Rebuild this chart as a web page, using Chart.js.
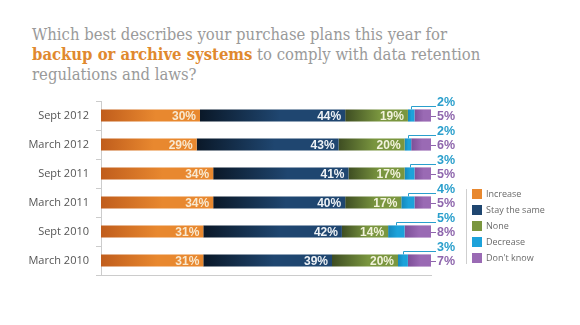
<!DOCTYPE html>
<html>
<head>
<meta charset="utf-8">
<script src="https://cdn.jsdelivr.net/npm/chart.js@4.4.1/dist/chart.umd.min.js"></script>
<style>
  html, body { margin: 0; padding: 0; background: #fff; }
  #wrap { position: relative; width: 580px; height: 325px; }
  #title {
    position: absolute; left: 32px; top: 25px; width: 546px;
    font-family: "DejaVu Serif Condensed", "DejaVu Serif", serif; font-stretch: condensed;
    font-size: 16.5px; line-height: 20px;
    color: #9a9a9a; white-space: nowrap;
  }
  #title b { color: #e0892e; }
  canvas { position: absolute; left: 0; top: 0; }
</style>
</head>
<body>
<div id="wrap">
  <div id="title">Which best describes your purchase plans this year for<br><b>backup or archive systems</b> to comply with data retention<br>regulations and laws?</div>
  <canvas id="c" width="580" height="325"></canvas>
</div>
<script>
// survey waves, top to bottom
const periods = ['Sept 2012', 'March 2012', 'Sept 2011', 'March 2011', 'Sept 2010', 'March 2010'];

const increase = [30, 29, 34, 34, 31, 31];
const staySame = [44, 43, 41, 40, 42, 39];
const none     = [19, 20, 17, 17, 14, 20];
const decrease = [2, 2, 3, 4, 5, 3];
const dontKnow = [5, 6, 5, 5, 8, 7];

const seriesNames = ['Increase', 'Stay the same', 'None', 'Decrease', "Don't know"];

// dark -> main colour for each segment gradient
const shades = [
  ['#c05d1c', '#e8882f'],
  ['#0a1828', '#1f4670'],
  ['#3e4d22', '#7a963f'],
  ['#1587bb', '#1ca2da'],
  ['#7d4f98', '#9a6ab4']
];
const insideLabel = ['#f8e8cf', '#eef2f6', '#f2f2dc'];
const valueLists = [increase, staySame, none, decrease, dontKnow];

function segmentFill(ds) {
  return function (c) {
    const chart = c.chart;
    const x = chart.scales.x;
    if (!x || c.dataIndex === undefined) return shades[ds][1];
    let start = 0;
    for (let k = 0; k < ds; k++) start += valueLists[k][c.dataIndex];
    const x0 = x.getPixelForValue(start);
    const x1 = x.getPixelForValue(start + valueLists[ds][c.dataIndex]);
    if (!isFinite(x0) || !isFinite(x1) || x1 - x0 < 1) return shades[ds][1];
    const g = chart.ctx.createLinearGradient(x0, 0, x1, 0);
    g.addColorStop(0, shades[ds][0]);
    g.addColorStop(0.55, shades[ds][1]);
    g.addColorStop(1, shades[ds][1]);
    return g;
  };
}

const labelPlugin = {
  id: 'labels',
  afterDatasetsDraw(chart) {
    const ctx = chart.ctx;
    ctx.save();
    ctx.font = 'bold 12px "Liberation Sans", Arial, sans-serif';
    ctx.textBaseline = 'middle';
    // values inside the first three segments
    for (let d = 0; d < 3; d++) {
      const meta = chart.getDatasetMeta(d);
      meta.data.forEach((bar, i) => {
        ctx.fillStyle = insideLabel[d];
        ctx.textAlign = 'right';
        ctx.fillText(valueLists[d][i] + '%', bar.x - 4, bar.y + 1);
      });
    }
    const right = chart.chartArea.right;
    ctx.font = 'bold 12.5px "Liberation Sans", Arial, sans-serif';
    // decrease: leader line up to label above the row
    const decMeta = chart.getDatasetMeta(3);
    decMeta.data.forEach((bar, i) => {
      const cx = (bar.x + bar.base) / 2;
      const top = bar.y - bar.height / 2;
      const ly = bar.y - 10;
      ctx.strokeStyle = '#2a9fcc';
      ctx.lineWidth = 1;
      ctx.beginPath();
      ctx.moveTo(Math.round(cx) + 0.5, top);
      ctx.lineTo(Math.round(cx) + 0.5, Math.round(ly) + 0.5);
      ctx.lineTo(right + 5, Math.round(ly) + 0.5);
      ctx.stroke();
      ctx.fillStyle = '#2a9fcc';
      ctx.textAlign = 'left';
      ctx.fillText(decrease[i] + '%', right + 6, bar.y - 13);
    });
    // don't know: dash + label at row end
    const dkMeta = chart.getDatasetMeta(4);
    dkMeta.data.forEach((bar, i) => {
      ctx.strokeStyle = '#8e66ad';
      ctx.beginPath();
      ctx.moveTo(bar.x, Math.round(bar.y) + 0.5);
      ctx.lineTo(bar.x + 5, Math.round(bar.y) + 0.5);
      ctx.stroke();
      ctx.fillStyle = '#8e66ad';
      ctx.textAlign = 'left';
      ctx.fillText(dontKnow[i] + '%', right + 6, bar.y + 1);
    });
    ctx.restore();
  }
};

const legendPlugin = {
  id: 'sideLegend',
  afterDraw(chart) {
    const ctx = chart.ctx;
    ctx.save();
    ctx.strokeStyle = '#cfcfcf';
    ctx.lineWidth = 1;
    ctx.beginPath();
    ctx.moveTo(466.5, 189);
    ctx.lineTo(466.5, 264);
    ctx.stroke();
    ctx.font = '9px "Open Sans", "DejaVu Sans", sans-serif';
    ctx.textBaseline = 'middle';
    ctx.textAlign = 'left';
    seriesNames.forEach((name, k) => {
      const y = 194 + k * 16;
      ctx.fillStyle = shades[k][1];
      ctx.fillRect(472, y - 5, 10, 10);
      ctx.fillStyle = '#6a6a6a';
      ctx.fillText(name, 486, y);
    });
    ctx.restore();
  }
};

const datasets = seriesNames.map((name, k) => ({
  label: name,
  data: valueLists[k],
  backgroundColor: segmentFill(k),
  borderWidth: 0,
  categoryPercentage: 1,
  barPercentage: 0.42
}));

new Chart(document.getElementById('c'), {
  type: 'bar',
  data: { labels: periods, datasets: datasets },
  options: {
    indexAxis: 'y',
    responsive: false,
    animation: false,
    layout: { padding: { left: 0, right: 149, top: 101, bottom: 50 } },
    plugins: { legend: { display: false }, tooltip: { enabled: false } },
    scales: {
      x: {
        stacked: true, min: 0, max: 100,
        grid: { display: false },
        ticks: { display: false },
        border: { display: true, color: '#cccccc', width: 1 },
        afterFit(s) { s.height = 0; }
      },
      y: {
        stacked: true,
        offset: true,
        grid: { display: true, drawOnChartArea: false, offset: true, tickLength: 5, color: '#cccccc' },
        border: { display: true, color: '#cccccc', width: 1 },
        ticks: {
          color: '#555555', padding: 7,
          font: { family: '"Open Sans", "DejaVu Sans", sans-serif', size: 11 }
        },
        afterFit(s) { s.width = 101; }
      }
    }
  },
  plugins: [labelPlugin, legendPlugin]
});
</script>
</body>
</html>
